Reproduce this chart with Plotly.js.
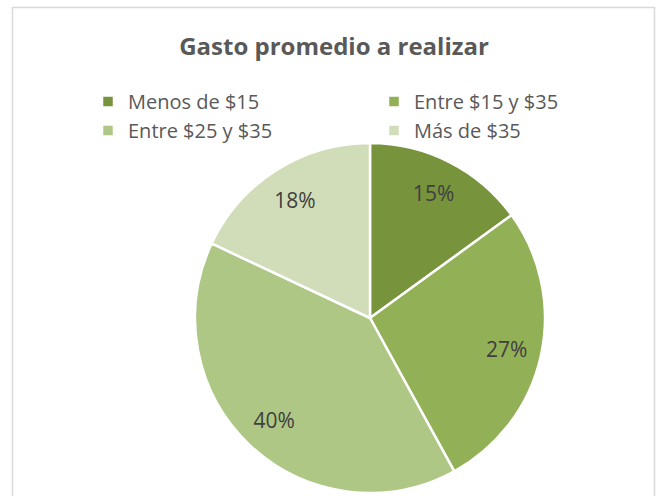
<!DOCTYPE html>
<html>
<head>
<meta charset="utf-8">
<script src="https://cdn.plot.ly/plotly-3.0.1.min.js"></script>
<style>html,body{margin:0;padding:0;background:#fff;}#chart{width:658px;height:496px;}</style>
</head>
<body>
<div id="chart"></div>
<script>
const titleText = "Gasto promedio a realizar";
const categories = ["Menos de $15", "Entre $15 y $35", "Entre $25 y $35", "Más de $35"];
const values = [15, 27, 40, 18];
const colors = ["#77933C", "#92B056", "#AEC784", "#D0DDB8"];

const W = 658, H = 496;
const cx = 370, cy = 318, R = 175;
const dom = {
  x: [(cx - R) / W, (cx + R) / W],
  y: [(H - cy - R) / H, (H - cy + R) / H]
};

const pie = {
  type: "pie",
  labels: categories,
  values: values,
  sort: false,
  direction: "clockwise",
  rotation: 0,
  marker: { colors: colors, line: { color: "#FFFFFF", width: 2.5 } },
  textinfo: "none",
  hoverinfo: "label+percent",
  domain: dom,
  showlegend: true
};

const labelsRing = {
  type: "pie",
  labels: categories,
  values: values,
  sort: false,
  direction: "clockwise",
  rotation: 0,
  hole: 0.6,
  marker: { colors: categories.map(() => "rgba(0,0,0,0)"), line: { width: 0 } },
  textinfo: "percent",
  textposition: "inside",
  insidetextorientation: "horizontal",
  textfont: { family: "Open Sans, Noto Sans, sans-serif", size: 21, color: "#404040" },
  hoverinfo: "skip",
  domain: dom,
  showlegend: false
};

const layout = {
  width: W,
  height: H,
  margin: { l: 0, r: 0, t: 0, b: 0, autoexpand: false },
  paper_bgcolor: "#FFFFFF",
  plot_bgcolor: "#FFFFFF",
  title: {
    text: "<b>" + titleText + "</b>",
    x: 334 / W, xanchor: "center",
    y: 1 - 47 / H, yanchor: "middle",
    font: { family: "Open Sans, Noto Sans, sans-serif", size: 24, color: "#595959" }
  },
  legend: {
    orientation: "h",
    x: 88 / W, xanchor: "left",
    y: 1 - 82 / H, yanchor: "top",
    entrywidth: 241,
    entrywidthmode: "pixels",
    traceorder: "normal",
    font: { family: "Open Sans, Noto Sans, sans-serif", size: 20, color: "#595959" },
    itemwidth: 30,
    bgcolor: "rgba(0,0,0,0)"
  },
  shapes: [{
    type: "rect", xref: "paper", yref: "paper",
    x0: 12.5 / W, x1: 654.5 / W, y0: -0.05, y1: 1 - 7.5 / H,
    line: { color: "#D9D9D9", width: 1.5 }, fillcolor: "rgba(0,0,0,0)"
  }]
};

Plotly.newPlot("chart", [pie, labelsRing], layout, { displayModeBar: false, staticPlot: true });
</script>
</body>
</html>
